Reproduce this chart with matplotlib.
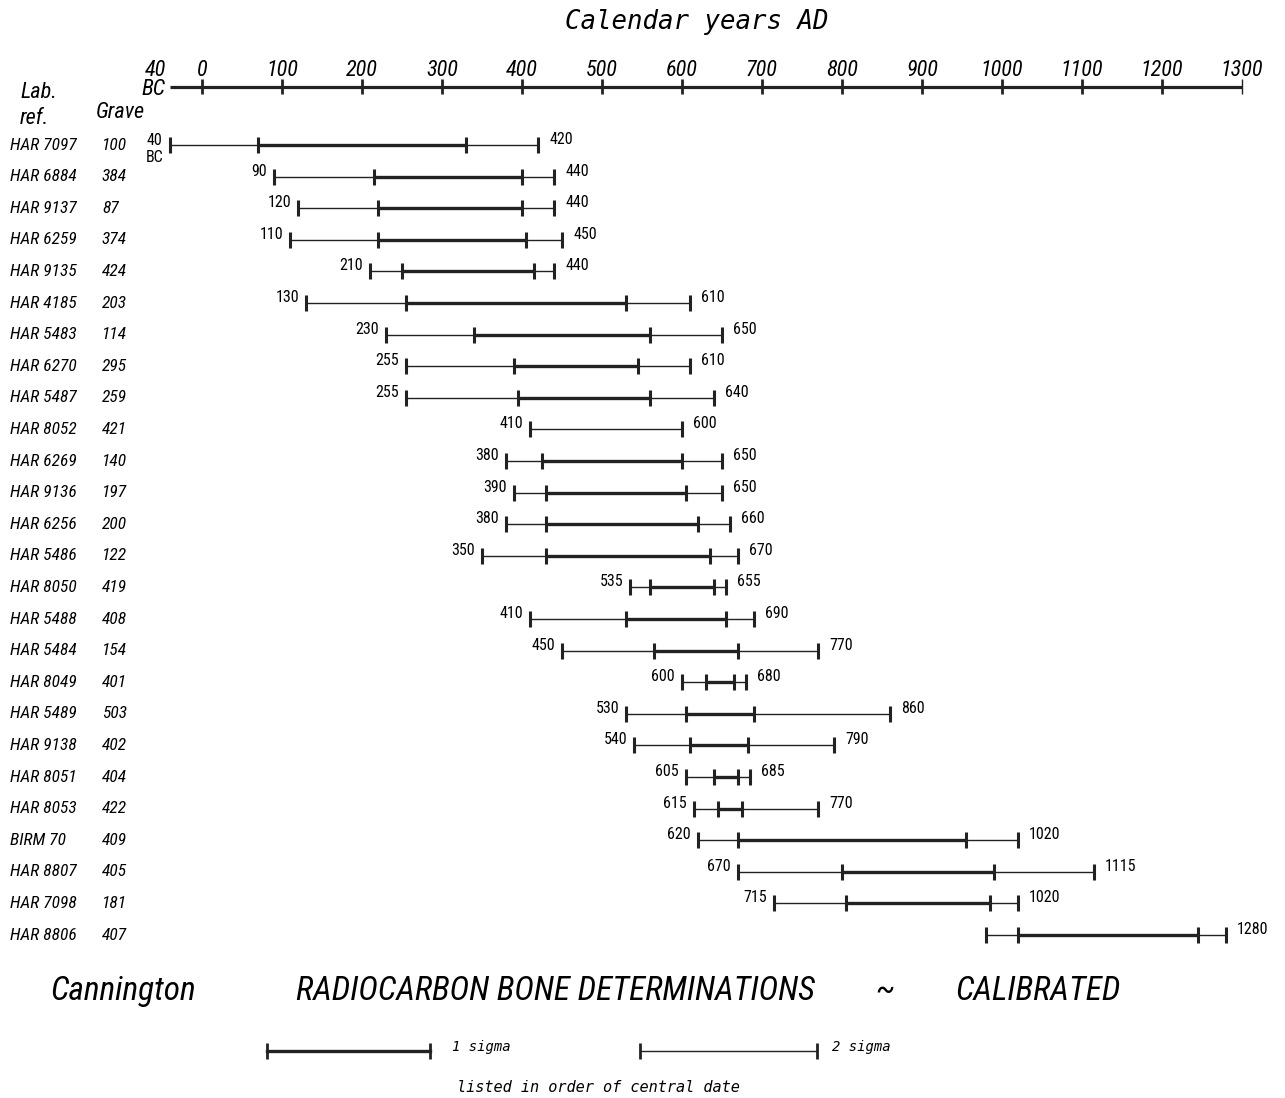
import matplotlib
matplotlib.use('Agg')
import matplotlib.pyplot as plt

# data (calibrated years AD, negative = BC)
lab_refs = ['HAR 7097', 'HAR 6884', 'HAR 9137', 'HAR 6259', 'HAR 9135', 'HAR 4185',
            'HAR 5483', 'HAR 6270', 'HAR 5487', 'HAR 8052', 'HAR 6269', 'HAR 9136',
            'HAR 6256', 'HAR 5486', 'HAR 8050', 'HAR 5488', 'HAR 5484', 'HAR 8049',
            'HAR 5489', 'HAR 9138', 'HAR 8051', 'HAR 8053', 'BIRM 70', 'HAR 8807',
            'HAR 7098', 'HAR 8806']
graves = ['100', '384', '87', '374', '424', '203', '114', '295', '259', '421', '140', '197',
          '200', '122', '419', '408', '154', '401', '503', '402', '404', '422', '409', '405',
          '181', '407']
two_lo = [-40, 90, 120, 110, 210, 130, 230, 255, 255, 410, 380, 390, 380, 350, 535, 410,
          450, 600, 530, 540, 605, 615, 620, 670, 715, 980]
two_hi = [420, 440, 440, 450, 440, 610, 650, 610, 640, 600, 650, 650, 660, 670, 655, 690,
          770, 680, 860, 790, 685, 770, 1020, 1115, 1020, 1280]
one_lo = [70, 215, 220, 220, 250, 255, 340, 390, 395, None, 425, 430, 430, 430, 560, 530,
          565, 630, 605, 610, 640, 645, 670, 800, 805, 1020]
one_hi = [330, 400, 400, 405, 415, 530, 560, 545, 560, None, 600, 605, 620, 635, 640, 655,
          670, 665, 690, 683, 670, 675, 955, 990, 985, 1245]
lo_text = ['40\nBC', '90', '120', '110', '210', '130', '230', '255', '255', '410', '380',
           '390', '380', '350', '535', '410', '450', '600', '530', '540', '605', '615',
           '620', '670', '715', '']
hi_text = [str(v) for v in two_hi]

axis_ticks = [0, 100, 200, 300, 400, 500, 600, 700, 800, 900, 1000, 1100, 1200, 1300]

# narrow font, falls back to DejaVu Sans Condensed
NARROW = dict(family=['Roboto Condensed', 'DejaVu Sans'], fontstretch='condensed')
MONO = 'DejaVu Sans Mono'
INK = '#222222'

W, H = 1285, 1098
fig = plt.figure(figsize=(W / 100, H / 100), dpi=100)
ax = fig.add_axes([0, 0, 1, 1])
# x in years (0 AD at pixel 202, 0.8 px per year), y in pixel rows
ax.set_xlim(-202 / 0.8, (W - 202) / 0.8)
ax.set_ylim(H, 0)
ax.axis('off')

def ftxt(x, y, s, **kw):
    fig.text(x / W, 1 - y / H, s, **kw)

# title and top axis
ftxt(697, 22, 'Calendar years AD', family=MONO, style='italic', fontsize=18.5,
     ha='center', va='center')
ax_y = 87
ax.plot([-40, 1300], [ax_y, ax_y], color=INK, lw=2.3, solid_capstyle='butt')
ax.vlines(axis_ticks[:-1], ax_y - 8, ax_y + 7, color=INK, lw=2.0)
ax.vlines(axis_ticks[-1], ax_y - 8, ax_y + 7, color=INK, lw=1.0)
for t in axis_ticks:
    ax.text(t, 71, str(t), style='italic', fontsize=16, ha='center', va='center', **NARROW)
ax.annotate('40\nBC', (-40, 80), xytext=(-3, 0), textcoords='offset points',
            style='italic', fontsize=16, ha='right', va='center', linespacing=0.9, **NARROW)

# column headings
ftxt(20, 93, 'Lab.', style='italic', fontsize=16, va='center', **NARROW)
ftxt(20, 118, 'ref.', style='italic', fontsize=16, va='center', **NARROW)
ftxt(96, 112, 'Grave', style='italic', fontsize=16, va='center', **NARROW)

row0, step = 145, 31.6
for i in range(len(lab_refs)):
    y = row0 + step * i
    ftxt(10, y, lab_refs[i], style='italic', fontsize=12.5, va='center', **NARROW)
    ftxt(102, y, graves[i], style='italic', fontsize=12.5, va='center', **NARROW)
    ax.plot([two_lo[i], two_hi[i]], [y, y], color=INK, lw=1.0)
    ax.vlines([two_lo[i], two_hi[i]], y - 8, y + 8, color=INK, lw=2.2)
    if one_lo[i] is not None:
        ax.plot([one_lo[i], one_hi[i]], [y, y], color=INK, lw=2.4, solid_capstyle='butt')
        ax.vlines([one_lo[i], one_hi[i]], y - 8, y + 8, color=INK, lw=2.2)
    if lo_text[i]:
        if '\n' in lo_text[i]:
            ax.annotate(lo_text[i], (two_lo[i], y), xytext=(-11, -3),
                        textcoords='offset points', fontsize=11.5,
                        ha='center', va='center', linespacing=1.15, **NARROW)
        else:
            ax.annotate(lo_text[i], (two_lo[i], y), xytext=(-5, 4),
                        textcoords='offset points', fontsize=11.5,
                        ha='right', va='center', **NARROW)
    ax.annotate(hi_text[i], (two_hi[i], y), xytext=(8, 4), textcoords='offset points',
                fontsize=11.5, ha='left', va='center', **NARROW)

# bottom title
ttl = dict(style='italic', fontsize=24, va='center', **NARROW)
ftxt(50, 991, 'Cannington', **ttl)
ftxt(296, 991, 'RADIOCARBON BONE DETERMINATIONS', **ttl)
ftxt(885, 991, '~', ha='center', **ttl)
ftxt(955, 991, 'CALIBRATED', **ttl)

# legend key
def px(x):
    return (x - 202) / 0.8

ax.plot([px(267), px(430)], [1051, 1051], color=INK, lw=2.4)
ax.vlines([px(267), px(430)], 1043, 1059, color=INK, lw=2.0)
ax.plot([px(640), px(817)], [1051, 1051], color=INK, lw=1.0)
ax.vlines([px(640), px(817)], 1043, 1059, color=INK, lw=2.0)
ftxt(452, 1047, '1 sigma', family=MONO, style='italic', fontsize=10, va='center')
ftxt(832, 1047, '2 sigma', family=MONO, style='italic', fontsize=10, va='center')
ftxt(598, 1087, 'listed in order of central date', family=MONO, style='italic',
     fontsize=11, ha='center', va='center')

fig.savefig('out.png', dpi=100)
